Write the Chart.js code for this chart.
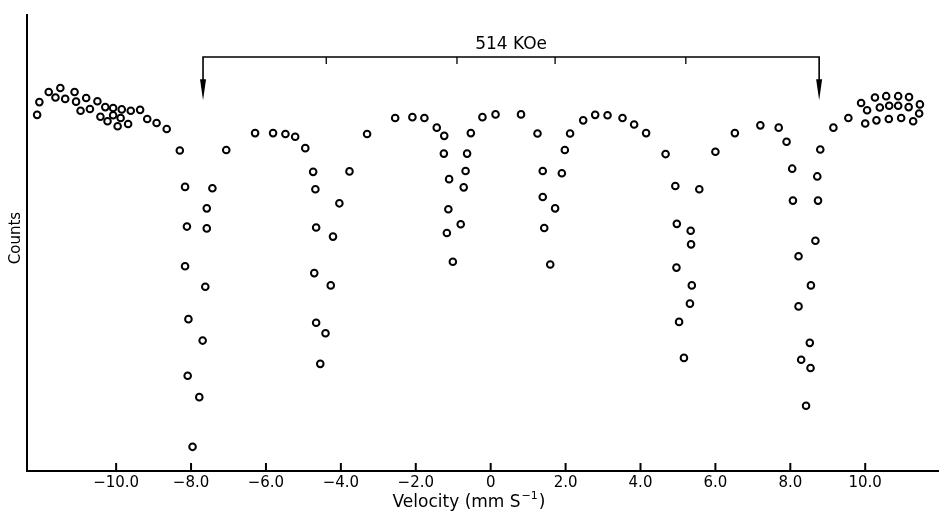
<!DOCTYPE html>
<html>
<head>
<meta charset="utf-8">
<script src="https://cdn.jsdelivr.net/npm/chart.js@4.4.0/dist/chart.umd.min.js"></script>
<style>
html, body { margin: 0; padding: 0; background: #fff; }
#wrap { width: 939px; height: 517px; }
</style>
</head>
<body>
<div id="wrap"><canvas id="myChart" width="939" height="517"></canvas></div>
<script>
// Mossbauer spectrum, velocity in mm/s, counts in relative units (0 = axis, 100 = top of axis)
const velocity = [
    -12.11, -12.05, -11.80, -11.62, -11.49, -11.36, -11.11, -11.07, -10.95, -10.80,
    -10.70, -10.50, -10.42, -10.29, -10.23, -10.08, -10.08, -9.96, -9.85, -9.88,
    -9.68, -9.61, -9.36, -9.17, -8.92, -8.65,
    -8.30, -8.16, -8.11, -8.16, -8.07, -8.09, -7.96, -7.78, -7.69, -7.62, -7.58, -7.58, -7.43, -7.06,
    -6.29, -5.81, -5.48, -5.22, -4.95,
    -4.74, -4.68, -4.66, -4.71, -4.66, -4.55, -4.41, -4.27, -4.21, -4.04, -3.77,
    -3.30, -2.55, -2.09, -1.77, -1.44,
    -1.24, -1.25, -1.11, -1.13, -1.17, -1.01, -0.80, -0.72, -0.67, -0.63, -0.53,
    -0.22, 0.13, 0.81,
    1.25, 1.39, 1.39, 1.43, 1.59, 1.72, 1.90, 1.98, 2.12,
    2.47, 2.79, 3.12, 3.52, 3.83, 4.15,
    4.67, 4.93, 4.97, 4.96, 5.03, 5.16, 5.32, 5.37, 5.35, 5.34, 5.57, 6.00,
    6.52, 7.20, 7.69, 7.90,
    8.05, 8.07, 8.22, 8.22, 8.29, 8.42, 8.54, 8.52, 8.55, 8.67, 8.74, 8.72, 8.80, 9.15, 9.55,
    9.89, 10.05, 10.00, 10.26, 10.39, 10.30, 10.56, 10.64, 10.63, 10.88,
    10.88, 10.96, 11.17, 11.16, 11.28, 11.46, 11.44
];
const counts = [
    78.1, 80.9, 83.1, 81.9, 84.0, 81.6, 83.1, 81.0, 79.0, 81.8,
    79.4, 81.1, 77.7, 79.8, 76.7, 79.6, 78.0, 75.6, 79.3, 77.4,
    76.1, 79.0, 79.2, 77.2, 76.3, 75.0,
    70.3, 62.3, 53.6, 44.9, 33.3, 20.9, 5.3, 16.2, 28.6, 40.4, 53.2, 57.6, 62.0, 70.4,
    74.1, 74.1, 73.9, 73.3, 70.8,
    65.6, 61.8, 53.4, 43.4, 32.5, 23.5, 30.2, 40.7, 51.4, 58.7, 65.7,
    73.9, 77.4, 77.6, 77.4, 75.3,
    73.5, 69.6, 64.0, 57.4, 52.2, 45.9, 54.1, 62.2, 65.8, 69.6, 74.1,
    77.6, 78.2, 78.2,
    74.0, 65.8, 60.1, 53.3, 45.3, 57.6, 65.3, 70.4, 74.0,
    76.9, 78.1, 78.0, 77.4, 76.0, 74.1,
    69.5, 62.5, 54.2, 44.6, 32.7, 24.8, 36.7, 40.7, 49.7, 52.7, 61.8, 70.0,
    74.1, 75.8, 75.3, 72.2,
    66.3, 59.3, 47.1, 36.1, 24.4, 14.3, 22.6, 28.1, 40.7, 50.5, 59.3, 64.6, 70.5, 75.3, 77.4,
    80.7, 79.1, 76.2, 81.9, 79.7, 76.9, 82.2, 80.1, 77.2, 82.2,
    80.1, 77.4, 82.0, 79.8, 76.7, 80.4, 78.4
];
const xTicks = [-10, -8, -6, -4, -2, 0, 2, 4, 6, 8, 10];
const xRange = [-12.38, 11.97];
const yRange = [0, 100];

// field bracket: outer lines, marks for inner lines, heights
const bracketArrows = [-7.68, 8.77];
const bracketMarks = [-4.39, -0.9, 1.72, 5.21];
const bracketLevel = 90.8;
const arrowTip = 81.3;
const fieldLabel = '514 KOe';

const points = velocity.map((v, i) => ({ x: v, y: counts[i] }));

function tickLabel(v) {
    if (v === 0) return '0';
    return (v < 0 ? '\u2212' : '') + Math.abs(v).toFixed(1);
}

const extras = {
    id: 'extras',
    afterDraw(chart) {
        const ctx = chart.ctx;
        const xs = chart.scales.x, ys = chart.scales.y;
        ctx.save();
        ctx.strokeStyle = '#000';
        ctx.fillStyle = '#000';

        // tick marks pointing into the plot
        ctx.lineWidth = 2;
        xTicks.forEach(v => {
            const px = xs.getPixelForValue(v);
            ctx.beginPath();
            ctx.moveTo(px, ys.bottom);
            ctx.lineTo(px, ys.bottom - 8);
            ctx.stroke();
        });

        // bracket with arrows
        const yb = ys.getPixelForValue(bracketLevel);
        const ya = ys.getPixelForValue(arrowTip);
        const xa = xs.getPixelForValue(bracketArrows[0]);
        const xb = xs.getPixelForValue(bracketArrows[1]);
        ctx.lineWidth = 1.6;
        ctx.beginPath();
        ctx.moveTo(xa, ya - 20);
        ctx.lineTo(xa, yb);
        ctx.lineTo(xb, yb);
        ctx.lineTo(xb, ya - 20);
        ctx.stroke();
        [xa, xb].forEach(px => {
            ctx.beginPath();
            ctx.moveTo(px - 3, ya - 21);
            ctx.lineTo(px + 3, ya - 21);
            ctx.lineTo(px, ya);
            ctx.closePath();
            ctx.fill();
        });
        ctx.lineWidth = 1.3;
        bracketMarks.forEach(v => {
            const px = xs.getPixelForValue(v);
            ctx.beginPath();
            ctx.moveTo(px, yb);
            ctx.lineTo(px, yb + 7);
            ctx.stroke();
        });
        ctx.font = '17px "DejaVu Sans"';
        ctx.textAlign = 'center';
        ctx.textBaseline = 'alphabetic';
        ctx.fillText(fieldLabel, (xa + xb) / 2, yb - 8);

        // axis titles
        ctx.textAlign = 'left';
        ctx.font = '17px "DejaVu Sans"';
        const t1 = 'Velocity (mm S', sup = '\u22121', t2 = ')';
        const w1 = ctx.measureText(t1).width;
        ctx.font = '11px "DejaVu Sans"';
        const ws = ctx.measureText(sup).width;
        ctx.font = '17px "DejaVu Sans"';
        const w2 = ctx.measureText(t2).width;
        let tx = 469 - (w1 + ws + w2 + 2) / 2;
        const ty = 507;
        ctx.fillText(t1, tx, ty);
        ctx.font = '11px "DejaVu Sans"';
        ctx.fillText(sup, tx + w1 + 1, ty - 8);
        ctx.font = '17px "DejaVu Sans"';
        ctx.fillText(t2, tx + w1 + ws + 2, ty);

        ctx.translate(16, 238);
        ctx.rotate(-Math.PI / 2);
        ctx.textAlign = 'center';
        ctx.textBaseline = 'middle';
        ctx.font = '15px "DejaVu Sans"';
        ctx.fillText('Counts', 0, 0);
        ctx.restore();
    }
};

const ctx = document.getElementById('myChart').getContext('2d');
const myChart = new Chart(ctx, {
    type: 'scatter',
    data: {
        datasets: [{
            label: 'Counts',
            data: points,
            pointStyle: 'circle',
            radius: 3.3,
            borderWidth: 2,
            borderColor: '#000',
            backgroundColor: 'rgba(0,0,0,0)',
            clip: false
        }]
    },
    options: {
        responsive: false,
        animation: false,
        devicePixelRatio: 1,
        layout: { autoPadding: false, padding: { left: 27, top: 15, right: 0, bottom: 22 } },
        plugins: {
            legend: { display: false },
            tooltip: { enabled: false }
        },
        scales: {
            x: {
                type: 'linear',
                min: xRange[0],
                max: xRange[1],
                afterBuildTicks: scale => { scale.ticks = xTicks.map(v => ({ value: v })); },
                grid: { display: false, drawTicks: false },
                border: { display: true, color: '#000', width: 2 },
                ticks: {
                    padding: 3,
                    color: '#000',
                    font: { family: 'DejaVu Sans', size: 15 },
                    maxRotation: 0,
                    autoSkip: false,
                    callback: v => tickLabel(v)
                }
            },
            y: {
                type: 'linear',
                min: yRange[0],
                max: yRange[1],
                grid: { display: false, drawTicks: false },
                border: { display: true, color: '#000', width: 2 },
                ticks: { display: false }
            }
        }
    },
    plugins: [extras]
});
</script>
</body>
</html>
